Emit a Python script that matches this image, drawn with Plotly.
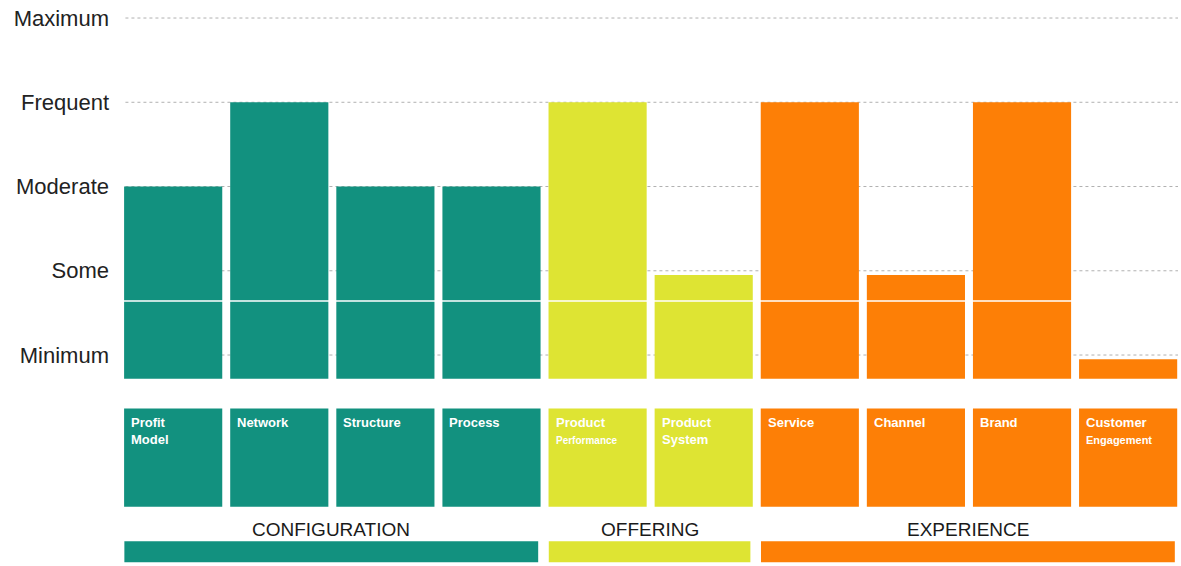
import plotly.graph_objects as go

# ---- data ----
categories = ["Profit Model", "Network", "Structure", "Process",
              "Product Performance", "Product System",
              "Service", "Channel", "Brand", "Customer Engagement"]
tile_labels = ["Profit<br>Model", "Network", "Structure", "Process",
               "Product<br><span style='font-size:10px'>Performance</span>",
               "Product<br>System", "Service", "Channel", "Brand",
               "Customer<br><span style='font-size:11px'>Engagement</span>"]
values = [3, 4, 3, 3, 4, 1.95, 4, 1.95, 4, 0.95]
groups = ["CONFIGURATION"] * 4 + ["OFFERING"] * 2 + ["EXPERIENCE"] * 4
group_names = ["CONFIGURATION", "OFFERING", "EXPERIENCE"]
level_vals = [1, 2, 3, 4, 5]
level_text = ["Minimum", "Some", "Moderate", "Frequent", "Maximum"]

# ---- style ----
group_colors = {"CONFIGURATION": "#12917f", "OFFERING": "#dee433", "EXPERIENCE": "#fd7f06"}
BASE = 0.72
BAR_W = 0.925
TILE_TOP, TILE_BOT = 0.365, -0.80
GBAR_TOP, GBAR_BOT = -1.21, -1.46
GLABEL_Y = -1.07
Y_RANGE = [-1.504, 5.214]
X_RANGE = [-0.52, 9.47]
FONT = "Liberation Sans, Arial, Helvetica, sans-serif"

xs = list(range(len(categories)))
colors = [group_colors[g] for g in groups]

fig = go.Figure()

# main bars
fig.add_trace(go.Bar(
    x=xs, y=[v - BASE for v in values], base=[BASE] * len(values),
    width=BAR_W, marker=dict(color=colors, line=dict(width=0)),
    hovertext=categories, showlegend=False))

# category tiles
fig.add_trace(go.Bar(
    x=xs, y=[TILE_TOP - TILE_BOT] * len(xs), base=[TILE_BOT] * len(xs),
    width=BAR_W, marker=dict(color=colors, line=dict(width=0)),
    hovertext=categories, showlegend=False))

shapes = []
# dotted grid lines
for lv in level_vals:
    shapes.append(dict(type="line", xref="x", yref="y", x0=-0.45, x1=9.5, y0=lv, y1=lv,
                       line=dict(color="#b0b0b0", width=1, dash="dot"), layer="below"))

annotations = []
# tile labels
for i, t in enumerate(tile_labels):
    annotations.append(dict(x=i - BAR_W / 2, y=TILE_TOP, xref="x", yref="y",
                            text=t, showarrow=False, xanchor="left", yanchor="top",
                            align="left", xshift=5, yshift=-4,
                            font=dict(family=FONT, size=13, color="white", weight="bold")))

# group bars and labels
for g in group_names:
    idx = [i for i, gg in enumerate(groups) if gg == g]
    x0, x1 = min(idx) - 0.46, max(idx) + 0.44
    shapes.append(dict(type="rect", xref="x", yref="y", x0=x0, x1=x1,
                       y0=GBAR_BOT, y1=GBAR_TOP, fillcolor=group_colors[g],
                       line=dict(width=0)))
    annotations.append(dict(x=(x0 + x1) / 2, y=GLABEL_Y, xref="x", yref="y",
                            text=g, showarrow=False, xanchor="center", yanchor="middle",
                            font=dict(family=FONT, size=19, color="#1a1a1a")))

# scan artifact line
shapes.append(dict(type="line", xref="paper", yref="y", x0=0, x1=1, y0=1.641, y1=1.641,
                   line=dict(color="white", width=1.5), layer="above"))

fig.update_layout(
    width=1181, height=566,
    margin=dict(l=118, r=3, t=0, b=0),
    paper_bgcolor="white", plot_bgcolor="white",
    barmode="overlay", showlegend=False,
    shapes=shapes, annotations=annotations,
    font=dict(family=FONT),
    xaxis=dict(range=X_RANGE, showticklabels=False, showgrid=False, zeroline=False,
               showline=False, ticks=""),
    yaxis=dict(range=Y_RANGE, tickvals=level_vals, ticktext=level_text,
               showgrid=False, zeroline=False, showline=False, ticks="",
               ticklabelstandoff=8,
               tickfont=dict(family=FONT, size=22, color="#222222")),
)

fig.write_html("out.html")
